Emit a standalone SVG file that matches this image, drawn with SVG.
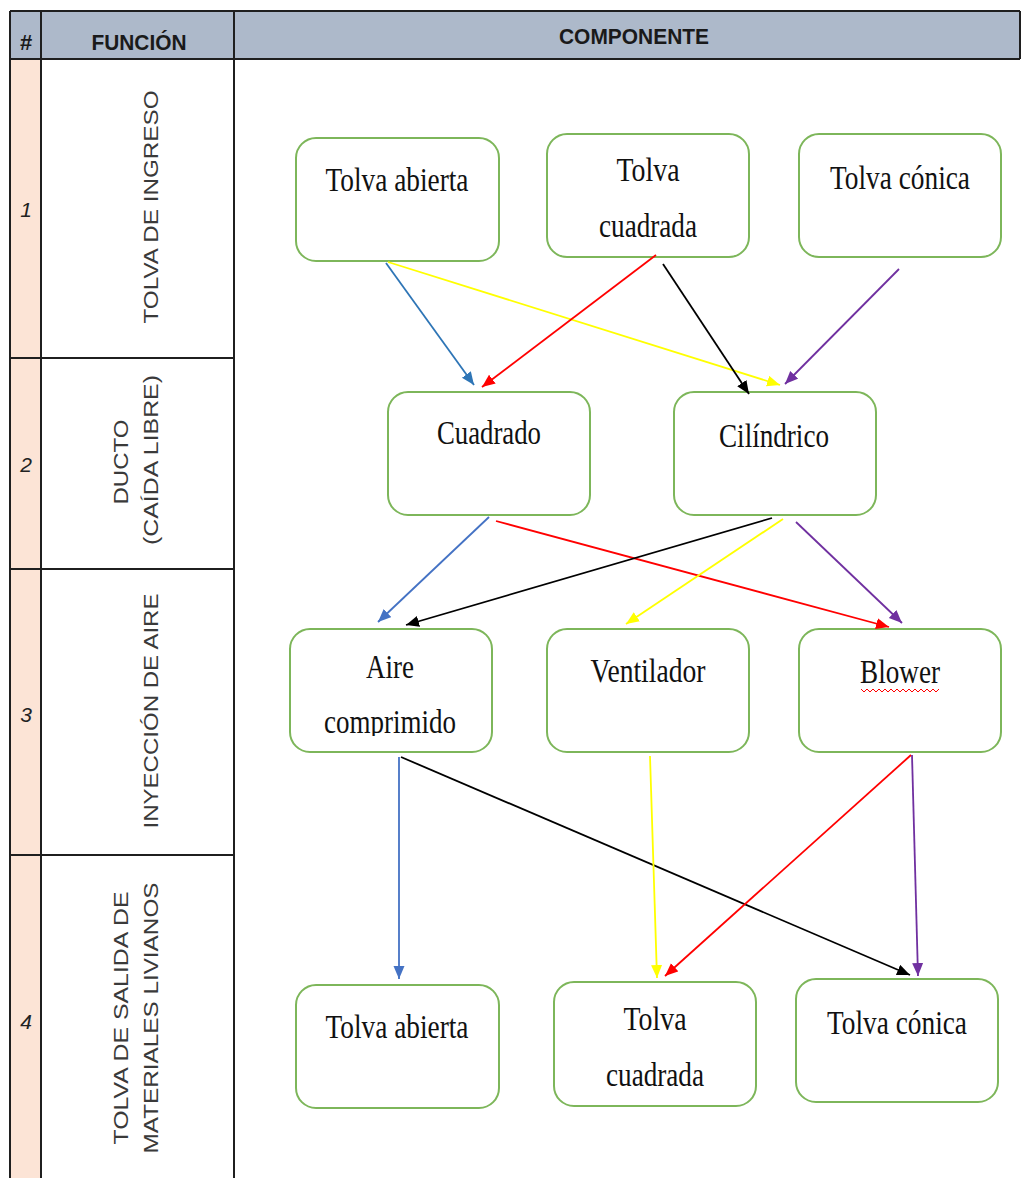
<svg xmlns="http://www.w3.org/2000/svg" width="1021" height="1178" viewBox="0 0 1021 1178">
<style>
.hdr{font-family:"Liberation Sans",Arial,sans-serif;font-weight:bold;font-size:22px;fill:#1a1a1a;text-anchor:middle}
.num{font-family:"Liberation Sans",Arial,sans-serif;font-style:italic;font-size:21px;fill:#222;text-anchor:middle}
.fn{font-family:"Liberation Sans",Arial,sans-serif;font-size:21px;fill:#3a3a3a;text-anchor:middle}
.box{fill:#fff;stroke:#7DB65A;stroke-width:2}
.lbl{font-family:"Liberation Serif","Times New Roman",serif;font-size:34px;fill:#111;text-anchor:middle}
.grid{stroke:#1f1f1f;stroke-width:2;fill:none}
.c{fill:none;stroke-width:1.8}
</style>
<defs>
<marker id="mBlue" markerUnits="userSpaceOnUse" markerWidth="14" markerHeight="12" refX="13" refY="5.5" orient="auto"><path d="M0,0 L13,5.5 L0,11 z" fill="#2E75B6"/></marker>
<marker id="mLBlue" markerUnits="userSpaceOnUse" markerWidth="14" markerHeight="12" refX="13" refY="5.5" orient="auto"><path d="M0,0 L13,5.5 L0,11 z" fill="#4472C4"/></marker>
<marker id="mYel" markerUnits="userSpaceOnUse" markerWidth="14" markerHeight="12" refX="13" refY="5.5" orient="auto"><path d="M0,0 L13,5.5 L0,11 z" fill="#FFFF00"/></marker>
<marker id="mRed" markerUnits="userSpaceOnUse" markerWidth="14" markerHeight="12" refX="13" refY="5.5" orient="auto"><path d="M0,0 L13,5.5 L0,11 z" fill="#FF0000"/></marker>
<marker id="mBlk" markerUnits="userSpaceOnUse" markerWidth="14" markerHeight="12" refX="13" refY="5.5" orient="auto"><path d="M0,0 L13,5.5 L0,11 z" fill="#000"/></marker>
<marker id="mPur" markerUnits="userSpaceOnUse" markerWidth="14" markerHeight="12" refX="13" refY="5.5" orient="auto"><path d="M0,0 L13,5.5 L0,11 z" fill="#7030A0"/></marker>
<clipPath id="clipComp"><rect x="290" y="690" width="202" height="46"/></clipPath>
</defs>
<rect width="1021" height="1178" fill="#fff"/>

<g id="table">
<rect x="10" y="11" width="1010" height="48" fill="#ADB9CA"/>
<rect x="10" y="59" width="31" height="1119" fill="#FCE4D6"/>
<line class="grid" x1="10" y1="11" x2="1020" y2="11"/>
<line class="grid" x1="10" y1="59" x2="1020" y2="59"/>
<line class="grid" x1="1020" y1="11" x2="1020" y2="59"/>
<line class="grid" x1="10" y1="11" x2="10" y2="1178"/>
<line class="grid" x1="41" y1="11" x2="41" y2="1178"/>
<line class="grid" x1="234" y1="11" x2="234" y2="1178"/>
<line class="grid" x1="10" y1="358" x2="234" y2="358"/>
<line class="grid" x1="10" y1="569" x2="234" y2="569"/>
<line class="grid" x1="10" y1="855" x2="234" y2="855"/>
<text class="hdr" x="26" y="50" font-size="20">#</text>
<text class="hdr" x="139" y="50" textLength="95" lengthAdjust="spacingAndGlyphs">FUNCIÓN</text>
<text class="hdr" x="634" y="44" textLength="150" lengthAdjust="spacingAndGlyphs">COMPONENTE</text>
<text class="num" x="26" y="217">1</text>
<text class="num" x="26" y="472">2</text>
<text class="num" x="26" y="722">3</text>
<text class="num" x="26" y="1029">4</text>
<text class="fn" transform="translate(158,207) rotate(-90)" textLength="233" lengthAdjust="spacingAndGlyphs">TOLVA DE INGRESO</text>
<text class="fn" transform="translate(128,462) rotate(-90)" textLength="85" lengthAdjust="spacingAndGlyphs">DUCTO</text>
<text class="fn" transform="translate(158,460) rotate(-90)" textLength="170" lengthAdjust="spacingAndGlyphs">(CAÍDA LIBRE)</text>
<text class="fn" transform="translate(158,711) rotate(-90)" textLength="235" lengthAdjust="spacingAndGlyphs">INYECCIÓN DE AIRE</text>
<text class="fn" transform="translate(128,1018) rotate(-90)" textLength="253" lengthAdjust="spacingAndGlyphs">TOLVA DE SALIDA DE</text>
<text class="fn" transform="translate(158,1018) rotate(-90)" textLength="271" lengthAdjust="spacingAndGlyphs">MATERIALES LIVIANOS</text>
</g>

<g id="n1a"><rect class="box" x="296" y="138" width="203" height="123" rx="20"/><text class="lbl" x="397" y="191" textLength="143" lengthAdjust="spacingAndGlyphs">Tolva abierta</text></g>
<g id="n1b"><rect class="box" x="547" y="134" width="202" height="123" rx="20"/><text class="lbl" x="648" y="181" textLength="63" lengthAdjust="spacingAndGlyphs">Tolva</text><text class="lbl" x="648" y="237" textLength="98" lengthAdjust="spacingAndGlyphs">cuadrada</text></g>
<g id="n1c"><rect class="box" x="799" y="134" width="202" height="123" rx="20"/><text class="lbl" x="900" y="189" textLength="140" lengthAdjust="spacingAndGlyphs">Tolva cónica</text></g>

<g id="n2a"><rect class="box" x="388" y="392" width="202" height="123" rx="20"/><text class="lbl" x="489" y="444" textLength="104" lengthAdjust="spacingAndGlyphs">Cuadrado</text></g>
<g id="n2b"><rect class="box" x="674" y="392" width="202" height="123" rx="20"/><text class="lbl" x="774" y="447" textLength="110" lengthAdjust="spacingAndGlyphs">Cilíndrico</text></g>

<g id="n3a"><rect class="box" x="290" y="629" width="202" height="123" rx="20"/><text class="lbl" x="390" y="678" textLength="48" lengthAdjust="spacingAndGlyphs">Aire</text><text class="lbl" x="390" y="733" textLength="132" lengthAdjust="spacingAndGlyphs" clip-path="url(#clipComp)">comprimido</text></g>
<g id="n3b"><rect class="box" x="547" y="629" width="202" height="123" rx="20"/><text class="lbl" x="648" y="682" textLength="115" lengthAdjust="spacingAndGlyphs">Ventilador</text></g>
<g id="n3c"><rect class="box" x="799" y="629" width="202" height="123" rx="20"/><text class="lbl" x="900" y="683" textLength="80" lengthAdjust="spacingAndGlyphs">Blower</text><path d="M861,689 l3,3 l3,-3 l3,3 l3,-3 l3,3 l3,-3 l3,3 l3,-3 l3,3 l3,-3 l3,3 l3,-3 l3,3 l3,-3 l3,3 l3,-3 l3,3 l3,-3 l3,3 l3,-3 l3,3 l3,-3 l3,3 l3,-3 l3,3 l3,-3" fill="none" stroke="#FF0000" stroke-width="1"/></g>

<g id="n4a"><rect class="box" x="296" y="985" width="203" height="123" rx="20"/><text class="lbl" x="397" y="1038" textLength="143" lengthAdjust="spacingAndGlyphs">Tolva abierta</text></g>
<g id="n4b"><rect class="box" x="554" y="982" width="202" height="124" rx="20"/><text class="lbl" x="655" y="1030" textLength="63" lengthAdjust="spacingAndGlyphs">Tolva</text><text class="lbl" x="655" y="1086" textLength="98" lengthAdjust="spacingAndGlyphs">cuadrada</text></g>
<g id="n4c"><rect class="box" x="796" y="979" width="202" height="123" rx="20"/><text class="lbl" x="897" y="1034" textLength="140" lengthAdjust="spacingAndGlyphs">Tolva cónica</text></g>

<g id="connectors">
<line class="c" x1="386" y1="263" x2="474" y2="385" stroke="#2E75B6" marker-end="url(#mBlue)"/>
<line class="c" x1="388" y1="262" x2="780" y2="385" stroke="#FFFF00" marker-end="url(#mYel)"/>
<line class="c" x1="656" y1="255" x2="482" y2="387" stroke="#FF0000" marker-end="url(#mRed)"/>
<line class="c" x1="663" y1="264" x2="749" y2="394" stroke="#000" marker-end="url(#mBlk)"/>
<line class="c" x1="899" y1="269" x2="785" y2="384" stroke="#7030A0" marker-end="url(#mPur)"/>

<line class="c" x1="489" y1="517" x2="378" y2="622" stroke="#4472C4" marker-end="url(#mLBlue)"/>
<line class="c" x1="496" y1="521" x2="889" y2="627" stroke="#FF0000" marker-end="url(#mRed)"/>
<line class="c" x1="772" y1="518" x2="406" y2="625" stroke="#000" marker-end="url(#mBlk)"/>
<line class="c" x1="783" y1="519" x2="626" y2="624" stroke="#FFFF00" marker-end="url(#mYel)"/>
<line class="c" x1="796" y1="522" x2="902" y2="623" stroke="#7030A0" marker-end="url(#mPur)"/>

<line class="c" x1="399" y1="757" x2="399" y2="979" stroke="#4472C4" marker-end="url(#mLBlue)"/>
<line class="c" x1="401" y1="757" x2="910" y2="975" stroke="#000" marker-end="url(#mBlk)"/>
<line class="c" x1="650" y1="756" x2="657" y2="978" stroke="#FFFF00" marker-end="url(#mYel)"/>
<line class="c" x1="911" y1="755" x2="665" y2="976" stroke="#FF0000" marker-end="url(#mRed)"/>
<line class="c" x1="912" y1="755" x2="918" y2="976" stroke="#7030A0" marker-end="url(#mPur)"/>
</g>
</svg>
